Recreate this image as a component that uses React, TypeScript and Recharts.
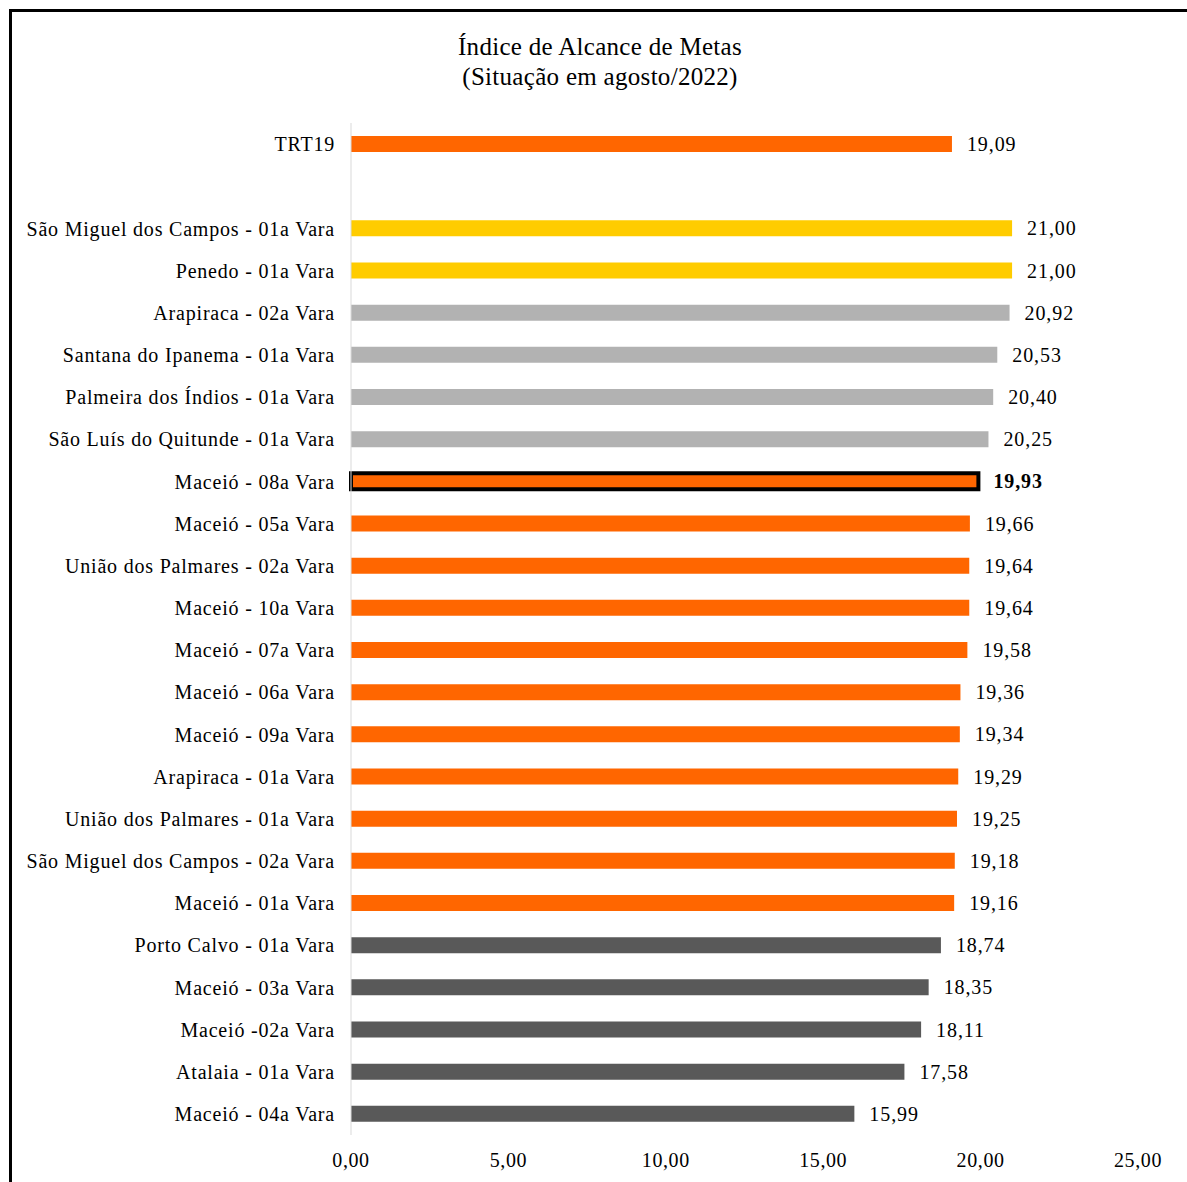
import React from 'react';
import { BarChart, Bar, XAxis, YAxis, Cell, LabelList } from 'recharts';

const categories = [
  'TRT19',
  '',
  'São Miguel dos Campos - 01a Vara',
  'Penedo - 01a Vara',
  'Arapiraca - 02a Vara',
  'Santana do Ipanema - 01a Vara',
  'Palmeira dos Índios - 01a Vara',
  'São Luís do Quitunde - 01a Vara',
  'Maceió - 08a Vara',
  'Maceió - 05a Vara',
  'União dos Palmares - 02a Vara',
  'Maceió - 10a Vara',
  'Maceió - 07a Vara',
  'Maceió - 06a Vara',
  'Maceió - 09a Vara',
  'Arapiraca - 01a Vara',
  'União dos Palmares - 01a Vara',
  'São Miguel dos Campos - 02a Vara',
  'Maceió - 01a Vara',
  'Porto Calvo - 01a Vara',
  'Maceió - 03a Vara',
  'Maceió -02a Vara',
  'Atalaia - 01a Vara',
  'Maceió - 04a Vara',
];

const values: (number | null)[] = [
  19.09, null, 21.0, 21.0, 20.92, 20.53, 20.4, 20.25, 19.93, 19.66, 19.64, 19.64,
  19.58, 19.36, 19.34, 19.29, 19.25, 19.18, 19.16, 18.74, 18.35, 18.11, 17.58, 15.99,
];

// group of each row: o = orange, y = yellow, l = light grey, d = dark grey
const groups = [
  'o', '-', 'y', 'y', 'l', 'l', 'l', 'l',
  'o', 'o', 'o', 'o', 'o', 'o', 'o', 'o', 'o', 'o', 'o',
  'd', 'd', 'd', 'd', 'd',
];

const highlighted = 'Maceió - 08a Vara';
const xTicks = [0, 5, 10, 15, 20, 25];

const groupColors: Record<string, string> = {
  o: '#FF6600',
  y: '#FFCC00',
  l: '#B2B2B2',
  d: '#595959',
  '-': 'transparent',
};

const data = categories.map((name, i) => ({ name, value: values[i], group: groups[i] }));

const FONT = '"Liberation Serif", "Times New Roman", serif';
const fmt = (v: number) => v.toFixed(2).replace('.', ',');

// label text carries a "b|" prefix for the highlighted row
const labelKey = (d: any) =>
  d.value == null ? null : (d.name === highlighted ? 'b|' : '') + fmt(d.value);

const ValueLabel = (props: any) => {
  const { x, y, width, height, value } = props;
  if (value == null) return null;
  const s = String(value);
  const bold = s.startsWith('b|');
  return (
    <text
      x={x + width + 15}
      y={y + height / 2}
      dominantBaseline="central"
      fontFamily={FONT}
      fontSize={20}
      letterSpacing={0.9}
      fontWeight={bold ? 'bold' : 'normal'}
      fill="#000"
    >
      {bold ? s.slice(2) : s}
    </text>
  );
};

export default function App() {
  return (
    <div style={{ position: 'absolute', left: 0, top: 0, width: 1187, height: 1182, background: '#fff' }}>
      <div
        style={{
          position: 'absolute',
          left: 9,
          top: 9,
          width: 1178,
          height: 1173,
          borderLeft: '3px solid #000',
          borderTop: '3px solid #000',
          boxSizing: 'border-box',
        }}
      />
      <div
        style={{
          position: 'absolute',
          left: 300,
          width: 600,
          top: 32,
          textAlign: 'center',
          fontFamily: FONT,
          fontSize: 25,
          letterSpacing: 0.3,
          lineHeight: '30px',
          color: '#000',
        }}
      >
        Índice de Alcance de Metas
        <br />
        (Situação em agosto/2022)
      </div>
      <BarChart
        width={1187}
        height={1182}
        data={data}
        layout="vertical"
        margin={{ top: 123, right: 49, bottom: 17, left: 0 }}
        style={{ position: 'absolute', left: 0, top: 0 }}
      >
        <XAxis
          type="number"
          domain={[0, 25]}
          ticks={xTicks}
          tickFormatter={fmt}
          axisLine={false}
          tickLine={false}
          tickSize={0}
          tickMargin={18}
          height={30}
          interval={0}
          tick={{ fill: '#000', fontFamily: FONT, fontSize: 20, letterSpacing: 0.6 }}
        />
        <YAxis
          type="category"
          dataKey="name"
          width={351}
          interval={0}
          tickLine={false}
          tickSize={0}
          tickMargin={16}
          axisLine={{ stroke: '#D9D9D9' }}
          tick={{ fill: '#000', fontFamily: FONT, fontSize: 20, letterSpacing: 0.8 }}
        />
        <Bar dataKey="value" barSize={16} isAnimationActive={false}>
          {data.map((d) => (
            <Cell
              key={d.name || 'blank'}
              fill={groupColors[d.group]}
              stroke={d.name === highlighted ? '#000' : 'none'}
              strokeWidth={d.name === highlighted ? 4 : 0}
            />
          ))}
          <LabelList dataKey={labelKey} content={ValueLabel} />
        </Bar>
      </BarChart>
    </div>
  );
}
